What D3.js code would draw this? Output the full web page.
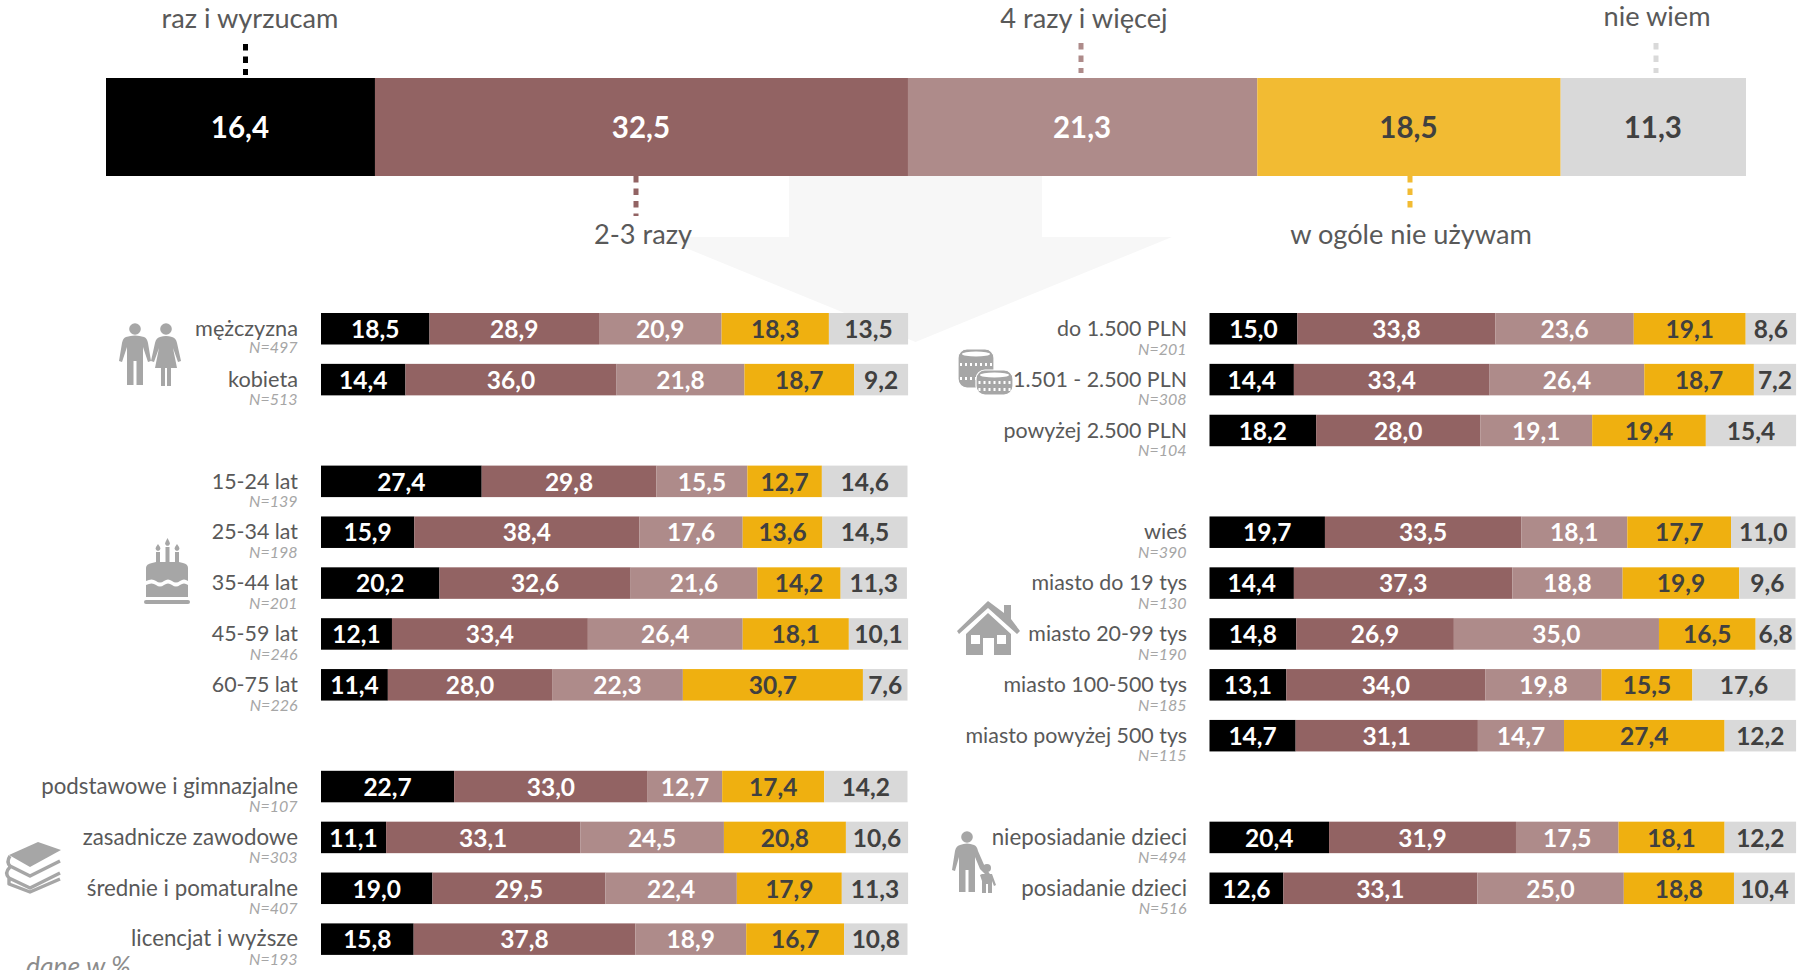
<!DOCTYPE html>
<html><head><meta charset="utf-8">
<script src="https://cdnjs.cloudflare.com/ajax/libs/d3/7.8.5/d3.min.js"></script>
<style>html,body{margin:0;padding:0;background:#fff;overflow:hidden}svg{display:block;font-family:Lato,"Open Sans",sans-serif}</style>
</head><body><svg id="c" width="1806" height="970"></svg>
<script>
const seriesNames = ["raz i wyrzucam","2-3 razy","4 razy i więcej","w ogóle nie używam","nie wiem"];
const topValues = [16.4,32.5,21.3,18.5,11.3];
const topColors = ["#000000","#926363","#ae8b8a","#f2bb33","#d9d9d9"];
const rowColors = ["#000000","#926363","#ae8b8a","#efb010","#d9d9d9"];
const valueInk = ["#ffffff","#ffffff","#ffffff","#404040","#404040"];

const leftLabels = ["mężczyzna","kobieta","15-24 lat","25-34 lat","35-44 lat","45-59 lat","60-75 lat","podstawowe i gimnazjalne","zasadnicze zawodowe","średnie i pomaturalne","licencjat i wyższe"];
const leftN = [497,513,139,198,201,246,226,107,303,407,193];
const leftSlots = [0,1,3,4,5,6,7,9,10,11,12];
const leftValues = [
 [18.5,28.9,20.9,18.3,13.5],[14.4,36.0,21.8,18.7,9.2],
 [27.4,29.8,15.5,12.7,14.6],[15.9,38.4,17.6,13.6,14.5],[20.2,32.6,21.6,14.2,11.3],[12.1,33.4,26.4,18.1,10.1],[11.4,28.0,22.3,30.7,7.6],
 [22.7,33.0,12.7,17.4,14.2],[11.1,33.1,24.5,20.8,10.6],[19.0,29.5,22.4,17.9,11.3],[15.8,37.8,18.9,16.7,10.8]];

const rightLabels = ["do 1.500 PLN","1.501 - 2.500 PLN","powyżej 2.500 PLN","wieś","miasto do 19 tys","miasto 20-99 tys","miasto 100-500 tys","miasto powyżej 500 tys","nieposiadanie dzieci","posiadanie dzieci"];
const rightN = [201,308,104,390,130,190,185,115,494,516];
const rightSlots = [0,1,2,4,5,6,7,8,10,11];
const rightValues = [
 [15.0,33.8,23.6,19.1,8.6],[14.4,33.4,26.4,18.7,7.2],[18.2,28.0,19.1,19.4,15.4],
 [19.7,33.5,18.1,17.7,11.0],[14.4,37.3,18.8,19.9,9.6],[14.8,26.9,35.0,16.5,6.8],[13.1,34.0,19.8,15.5,17.6],[14.7,31.1,14.7,27.4,12.2],
 [20.4,31.9,17.5,18.1,12.2],[12.6,33.1,25.0,18.8,10.4]];

const fmt = v => v.toFixed(1).replace(".", ",");
const svg = d3.select("#c");
const ICON = "#a6a6a6", LABEL = "#595959", NINK = "#a6a6a6";

// background arrow
svg.append("path").attr("fill","#f7f7f7")
  .attr("d","M789,176H1042V237H1172L915.5,342L659,237H789Z");

// top bar
const xTop = d3.scaleLinear().domain([0,100]).range([106,1746]);
const keys = d3.range(5);
const stack = d3.stack().keys(keys).value((d,k)=>d[k]);
const topS = stack([topValues]);
const topBar = svg.append("g");
topBar.selectAll("rect").data(topS).join("rect")
  .attr("x",d=>xTop(d[0][0])).attr("width",d=>xTop(d[0][1])-xTop(d[0][0]))
  .attr("y",78).attr("height",98).attr("fill",(d,i)=>topColors[i]);
topBar.selectAll("text").data(topS).join("text")
  .attr("x",d=>xTop((d[0][0]+d[0][1])/2)-0.5).attr("y",138)
  .attr("text-anchor","middle").attr("font-size",29.5).attr("font-weight",700)
  .attr("fill",(d,i)=>valueInk[i]).text((d,i)=>fmt(topValues[i]));

// callouts
const calloutX = [245.5,636,1081,1410,1656];
const calloutY = [[44,75],[176,216],[43,73],[176,212],[43,73]];
const calloutTextX = [250,643,1084,1411,1657];
const calloutTextY = [28,244,28,244,26];
seriesNames.forEach((n,i)=>{
  svg.append("line").attr("x1",calloutX[i]).attr("x2",calloutX[i])
    .attr("y1",calloutY[i][0]).attr("y2",calloutY[i][1])
    .attr("stroke",i===4?"#d9d9d9":topColors[i]).attr("stroke-width",5).attr("stroke-dasharray","6.5 6");
  svg.append("text").attr("x",calloutTextX[i]).attr("y",calloutTextY[i])
    .attr("text-anchor","middle").attr("font-size",27.2).attr("fill",LABEL).text(n);
});

// rows
const labelSize = s => /\d/.test(s) ? 21.4 : (s.length > 12 ? 22.3 : 21.7);
const yRow = d3.scaleLinear().domain([0,12]).range([313,923.4]);
function panel(labels,ns,slots,values,x0,x1,labelX){
  const x = d3.scaleLinear().domain([0,100]).range([x0,x1]);
  const g = svg.append("g");
  const rows = g.selectAll("g").data(values).join("g")
    .attr("transform",(d,i)=>`translate(0,${yRow(slots[i])})`);
  rows.each(function(v,ri){
    const s = stack([v]);
    const r = d3.select(this);
    r.selectAll("rect").data(s).join("rect")
      .attr("x",d=>x(d[0][0])).attr("width",d=>x(d[0][1])-x(d[0][0]))
      .attr("y",0).attr("height",31.5).attr("fill",(d,i)=>rowColors[i]);
    r.selectAll("text.v").data(s).join("text").attr("class","v")
      .attr("x",d=>x((d[0][0]+d[0][1])/2)).attr("y",25)
      .attr("text-anchor","middle").attr("font-size",24.5).attr("font-weight",700)
      .attr("fill",(d,i)=>valueInk[i]).text((d,i)=>fmt(v[i]));
    r.append("text").attr("x",labelX).attr("y",23).attr("text-anchor","end")
      .attr("font-size",labelSize(labels[ri])).attr("fill",LABEL).text(labels[ri]);
    r.append("text").attr("x",labelX-0.5).attr("y",labels[ri]==="mężczyzna"?40:41.5).attr("text-anchor","end")
      .attr("font-size",16).attr("font-style","italic").attr("fill",NINK).text("N="+ns[ri]);
  });
}
panel(leftLabels,leftN,leftSlots,leftValues,321,907.5,298);
panel(rightLabels,rightN,rightSlots,rightValues,1209.5,1795.5,1187);

// footnote, cut by the lower edge as in the reference
svg.append("text").attr("x",26).attr("y",976).attr("font-size",26.5).attr("font-style","italic").attr("fill","#8c8c8c").text("dane w %");

// icons
const icons = svg.append("g").attr("fill",ICON);
function person(x,y){
  const g=icons.append("g").attr("transform",`translate(${x},${y})`);
  g.append("circle").attr("cx",0).attr("cy",0).attr("r",5.8);
  g.append("path").attr("d","M-9,8 Q0,5 9,8 Q12,9 13,14 L16,32 L13,33 L8,18 L8,56 L1.5,56 L1.5,32 L-1.5,32 L-1.5,56 L-8,56 L-8,18 L-13,33 L-16,32 L-13,14 Q-12,9 -9,8Z");
}
person(135,329);
const w=icons.append("g").attr("transform","translate(166,329)");
w.append("circle").attr("r",5.8);
w.append("path").attr("d","M-6,8 Q0,6 6,8 Q10,9 11,14 L15,32 L12,33 L7,19 L11,39 L5,39 L5,57 L1,57 L1,39 L-1,39 L-1,57 L-5,57 L-5,39 L-11,39 L-7,19 L-12,33 L-15,32 L-11,14 Q-10,9 -6,8Z");
// cake
const c=icons.append("g").attr("transform","translate(167,575)");
c.append("path").attr("d","M-21,-7 Q-21,-11 -15,-12 L-11,-13 V-23 H-7 V-13 L-1.5,-13 V-28 H2.5 V-13 L8,-13 V-23 H12 V-13 L16,-12 Q21,-11 21,-7 V6 Q17,3 13,6 Q9,9 5,6 Q1,3 -3,6 Q-7,9 -11,6 Q-15,3 -21,6Z");
c.append("path").attr("d","M-21,10 Q-15,7 -11,10 Q-7,13 -3,10 Q1,7 5,10 Q9,13 13,10 Q17,7 21,10 V22 H-21Z");
c.append("rect").attr("x",-23).attr("y",25).attr("width",46).attr("height",4).attr("rx",2);
c.append("path").attr("d","M-9,-31 l2,3 a2.4,2.4 0 1 1 -4,0Z M0.5,-37 l2,4 a2.4,2.4 0 1 1 -4,0Z M10,-31 l2,3 a2.4,2.4 0 1 1 -4,0Z");
// books
const b=icons.append("g");
b.append("path").attr("d","M38,842 L61,850 L30,867 L9,855Z");
b.append("path").attr("fill","none").attr("stroke",ICON).attr("stroke-width",3.4).attr("stroke-linejoin","round")
 .attr("d","M10,856 Q6,862 10,866 L30,876 L60,861 M10,867 Q4,873 9,878 L30,888 L60,873 M9,879 L9,884 L30,892 L60,879");
// coins
const co=icons.append("g");
function coinStack(x0,x1,y0,y1,rowsY){
  const cx=(x0+x1)/2, s=co.append("g");
  s.append("rect").attr("x",x0).attr("y",y0).attr("width",x1-x0).attr("height",y1-y0).attr("rx",9)
    .attr("stroke","#fff").attr("stroke-width",1.2);
  s.append("ellipse").attr("cx",cx).attr("cy",y0+5).attr("rx",(x1-x0)/2-4).attr("ry",2.6).attr("fill","#fff");
  rowsY.forEach(y=>d3.range(-3,4).forEach(k=>{
    s.append("rect").attr("x",cx+k*5-1).attr("y",y).attr("width",2).attr("height",3).attr("fill","#fff");
  }));
}
coinStack(958,994,349,388,[363,377]);
coinStack(976,1013,370,395,[381,388]);
// house
icons.append("path").attr("fill-rule","evenodd").attr("transform","translate(957,601)")
 .attr("d","M31,0 L47,12 V4 H54 V18 L63,30 L60,33 L31,7 L2,33 L0,30Z M31,12 L54,33 V54 H37 V37 H26 V54 H9 V33Z M14,34 V43 H23 V34Z M40,34 V43 H49 V34Z");
// parent and child
const pc=icons.append("g").attr("transform","translate(967,837)");
pc.append("circle").attr("r",5.8);
pc.append("path").attr("d","M-7,8 Q0,5 7,8 Q10,9 11,14 L18,30 L25,40 L23,42 L13,32 L8,20 L8,55 L1.5,55 L1.5,33 L-1.5,33 L-1.5,55 L-8,55 L-8,20 L-12,34 L-15,33 L-12,14 Q-11,9 -7,8Z");
pc.append("circle").attr("cx",20).attr("cy",31).attr("r",4);
pc.append("path").attr("d","M15,37 H25 L29,48 L27,49 L25,44 V56 H21 V47 H19 V56 H15 V44 L13,38Z");
</script></body></html>
